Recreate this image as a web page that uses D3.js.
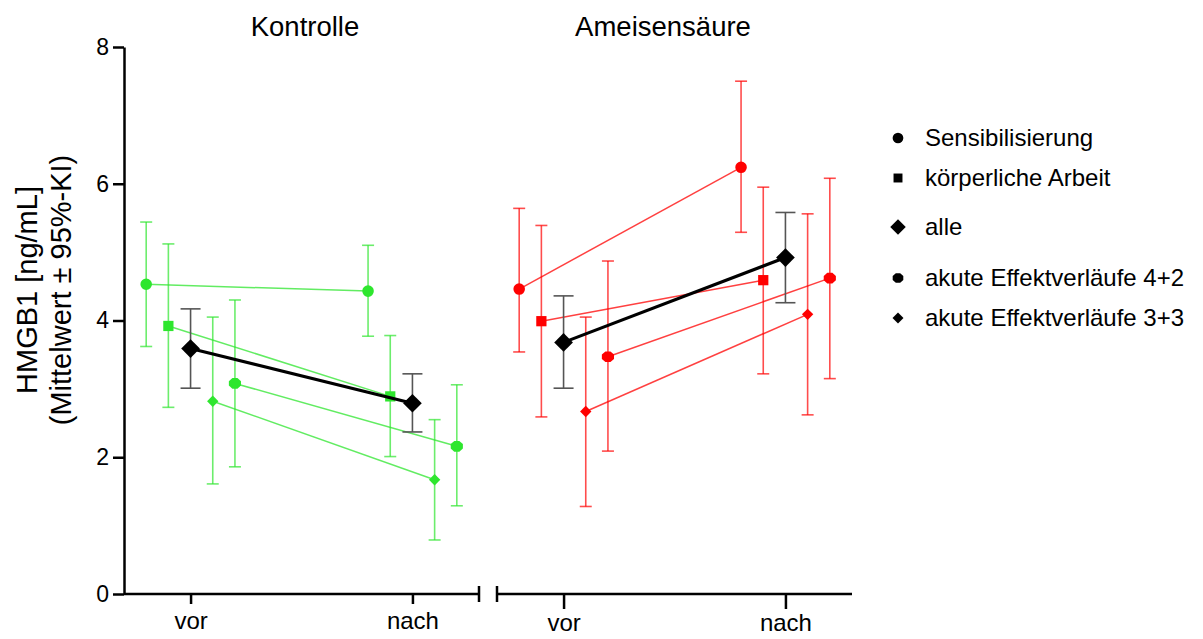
<!DOCTYPE html>
<html>
<head>
<meta charset="utf-8">
<script src="https://cdn.jsdelivr.net/npm/d3@7"></script>
<style>
  body { margin: 0; background: #fff; }
  svg { font-family: "Liberation Sans", Arial, Helvetica, sans-serif; }
  .axis path, .axis line { stroke: #000; stroke-width: 2.5; }
  .axis text { fill: #000; }
  .y-axis text { font-size: 23px; }
  .x-axis text { font-size: 24px; }
</style>
</head>
<body>
<div class="chart"></div>
<script>
// groups, time points and series (legend order)
var groups = ["Kontrolle", "Ameisensäure"];
var timepoints = ["vor", "nach"];
var seriesNames = ["Sensibilisierung", "körperliche Arbeit", "alle",
  "akute Effektverläufe 4+2", "akute Effektverläufe 3+3"];

// Kontrolle: [vor, nach] per series
var kontrolleMean = [[4.53, 4.43], [3.92, 2.89], [3.59, 2.79], [3.08, 2.16], [2.82, 1.67]];
var kontrolleLow  = [[3.62, 3.77], [2.73, 2.01], [3.01, 2.37], [1.86, 1.29], [1.61, 0.79]];
var kontrolleHigh = [[5.44, 5.10], [5.12, 3.78], [4.17, 3.22], [4.30, 3.06], [4.05, 2.55]];

// Ameisensäure: [vor, nach] per series
var ameiseMean = [[4.46, 6.24], [3.99, 4.59], [3.68, 4.92], [3.47, 4.62], [2.67, 4.09]];
var ameiseLow  = [[3.54, 5.29], [2.59, 3.22], [3.01, 4.26], [2.09, 3.15], [1.28, 2.62]];
var ameiseHigh = [[5.64, 7.50], [5.39, 5.95], [4.36, 5.58], [4.87, 6.08], [4.05, 5.56]];

var yTicks = [0, 2, 4, 6, 8];

var svgWidth = 1203;
var svgHeight = 639;

var svg = d3.select(".chart")
  .append("svg")
    .attr("width", svgWidth)
    .attr("height", svgHeight);

var yScale = d3.scaleLinear().domain([0, 8]).range([594, 47]);

// each panel: vor = 0, nach = 1, series dodged around it
var panelRanges = [[124, 479], [497, 852]];
var titleX = [305, 663];
var dodge = [-0.2, -0.1, 0, 0.2, 0.1];

var groupColors = ["#2ee62e", "#ff0000"];

// custom marker shapes
var octagon = {
  draw: function(ctx, size) {
    var r = Math.sqrt(size / 2.83);
    for (var i = 0; i < 8; i++) {
      var a = Math.PI / 8 + i * Math.PI / 4;
      var px = r * 1.08 * Math.cos(a), py = r * 0.95 * Math.sin(a);
      if (i === 0) ctx.moveTo(px, py); else ctx.lineTo(px, py);
    }
    ctx.closePath();
  }
};
var rhomb = {
  draw: function(ctx, size) {
    var r = Math.sqrt(size / 2);
    ctx.moveTo(0, -r); ctx.lineTo(r, 0); ctx.lineTo(0, r); ctx.lineTo(-r, 0);
    ctx.closePath();
  }
};
var symbolTypes = [d3.symbolCircle, d3.symbolSquare, rhomb, octagon, rhomb];
var symbolSizes = [105, 105, 175, 105, 65];
var legendSizes = [90, 80, 120, 80, 60];

var panelData = [
  { mean: kontrolleMean, low: kontrolleLow, high: kontrolleHigh },
  { mean: ameiseMean, low: ameiseLow, high: ameiseHigh }
];

// y axis
svg.append("g")
  .attr("class", "axis y-axis")
  .attr("transform", "translate(124,0)")
  .call(d3.axisLeft(yScale).tickValues(yTicks).tickSize(11).tickSizeOuter(0).tickPadding(4));

var yTitle = svg.append("text")
  .attr("transform", "translate(0,290) rotate(-90)")
  .attr("text-anchor", "middle")
  .style("font-size", "29px");
yTitle.append("tspan").attr("x", 0).attr("y", 37).text("HMGB1 [ng/mL]");
yTitle.append("tspan").attr("x", 0).attr("y", 71).text("(Mittelwert ± 95%-KI)");

groups.forEach(function(groupName, g) {
  var x = d3.scaleLinear().domain([-0.3, 1.3]).range(panelRanges[g]);
  var d = panelData[g];
  var chart = svg.append("g");

  // x axis
  var xAxis = svg.append("g")
    .attr("class", "axis x-axis")
    .attr("transform", "translate(0,594)")
    .call(d3.axisBottom(x).tickValues([0, 1])
      .tickFormat(function(v) { return timepoints[v]; })
      .tickSize(g === 0 ? 10 : 15).tickSizeOuter(0).tickPadding(g === 0 ? 8 : 5));
  xAxis.select(".domain").attr("d", "M" + panelRanges[g][0] + ",0H" + panelRanges[g][1]);
  // break caps
  var capX = g === 0 ? panelRanges[g][1] : panelRanges[g][0];
  xAxis.append("line")
    .attr("x1", capX).attr("x2", capX)
    .attr("y1", -8).attr("y2", 8);

  // panel title
  svg.append("text")
    .attr("x", titleX[g])
    .attr("y", 36)
    .attr("text-anchor", "middle")
    .style("font-size", "27.5px")
    .text(groupName);

  // draw coloured series first, then "alle" on top
  var order = [0, 1, 3, 4, 2];
  order.forEach(function(s) {
    var isAll = s === 2;
    var color = isAll ? "#000" : groupColors[g];
    var pts = timepoints.map(function(t, i) {
      return { xv: i + dodge[s], m: d.mean[s][i], lo: d.low[s][i], hi: d.high[s][i] };
    });
    var capW = isAll ? 10 : 6;

    var eb = chart.append("g")
      .attr("stroke", isAll ? "#555" : color)
      .attr("stroke-opacity", isAll ? 1 : 0.7)
      .attr("stroke-width", 1.6);
    pts.forEach(function(p) {
      eb.append("line").attr("x1", x(p.xv)).attr("x2", x(p.xv))
        .attr("y1", yScale(p.lo)).attr("y2", yScale(p.hi));
      eb.append("line").attr("x1", x(p.xv) - capW).attr("x2", x(p.xv) + capW)
        .attr("y1", yScale(p.lo)).attr("y2", yScale(p.lo));
      eb.append("line").attr("x1", x(p.xv) - capW).attr("x2", x(p.xv) + capW)
        .attr("y1", yScale(p.hi)).attr("y2", yScale(p.hi));
    });

    chart.append("path")
      .datum(pts)
      .attr("fill", "none")
      .attr("stroke", color)
      .attr("stroke-opacity", isAll ? 1 : 0.75)
      .attr("stroke-width", isAll ? 3.2 : 1.5)
      .attr("d", d3.line()
        .x(function(p) { return x(p.xv); })
        .y(function(p) { return yScale(p.m); }));

    chart.selectAll(null)
      .data(pts)
      .enter().append("path")
        .attr("transform", function(p) {
          return "translate(" + x(p.xv) + "," + yScale(p.m) + ")";
        })
        .attr("fill", color)
        .attr("d", d3.symbol().type(symbolTypes[s]).size(symbolSizes[s]));
  });
});

// legend
var legendY = [138, 178, 227, 278, 318];
var legend = svg.append("g");
seriesNames.forEach(function(name, s) {
  legend.append("path")
    .attr("transform", "translate(898," + legendY[s] + ")")
    .attr("fill", "#000")
    .attr("d", d3.symbol().type(symbolTypes[s]).size(legendSizes[s]));
  legend.append("text")
    .attr("x", 925)
    .attr("y", legendY[s])
    .attr("dy", "0.35em")
    .style("font-size", "24px")
    .text(name);
});
</script>
</body>
</html>
